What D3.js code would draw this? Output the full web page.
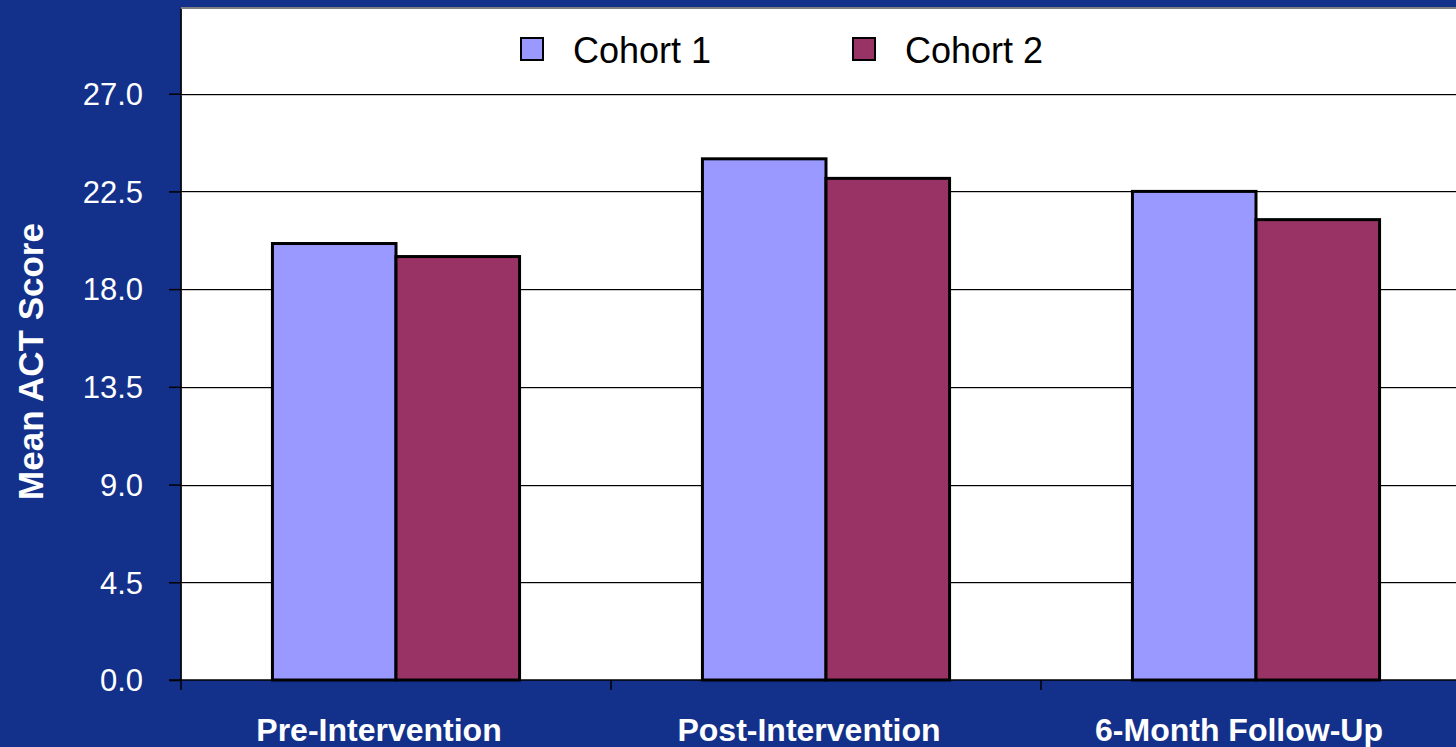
<!DOCTYPE html>
<html>
<head>
<meta charset="utf-8">
<script src="https://cdn.jsdelivr.net/npm/d3@7"></script>
<style>
  body { margin: 0; background: #13318b; }
  svg { display: block; font-family: 'Liberation Sans', Arial, sans-serif; }
</style>
</head>
<body>
<div id="chart"></div>
<script>
let categories = ['Pre-Intervention', 'Post-Intervention', '6-Month Follow-Up']
let seriesNames = ['Cohort 1', 'Cohort 2']
let cohort1 = [20.1, 24.0, 22.5]
let cohort2 = [19.5, 23.1, 21.2]
let yTicks = [0, 4.5, 9, 13.5, 18, 22.5, 27]

let width = 1456
let height = 747
let margin = { top: 9, left: 181, right: -15, bottom: 67 }
let plotW = width - margin.left - margin.right
let plotH = height - margin.top - margin.bottom

let colors = ['#9999ff', '#993366']

let svg = d3
  .select('#chart')
  .append('svg')
  .attr('width', width)
  .attr('height', height)

svg.append('rect')
  .attr('width', width)
  .attr('height', height)
  .attr('fill', '#13318b')

let g = svg.append('g')
  .attr('transform', 'translate(' + margin.left + ',' + margin.top + ')')

let x0 = d3.scaleBand().domain(categories).range([0, plotW]).paddingInner(0).paddingOuter(0)
let x1 = d3.scaleBand().domain(seriesNames).range([0, x0.bandwidth()]).paddingInner(0).paddingOuter(0.74)
let y = d3.scaleLinear().domain([0, 30.9]).range([plotH, 0])

// plot area with gray top edge
g.append('rect')
  .attr('x', 0).attr('y', -2)
  .attr('width', plotW).attr('height', plotH + 2)
  .attr('fill', '#808080')
g.append('rect')
  .attr('x', 1).attr('y', 0)
  .attr('width', plotW).attr('height', plotH)
  .attr('fill', 'white')

// gridlines
g.selectAll('.grid-shadow')
  .data(yTicks.filter(d => d > 0))
  .enter()
  .append('line')
  .attr('x1', 0).attr('x2', plotW)
  .attr('y1', d => Math.round(y(d)) + 1.5).attr('y2', d => Math.round(y(d)) + 1.5)
  .attr('stroke', '#c8c8c8')
  .attr('stroke-width', 1)
g.selectAll('.grid')
  .data(yTicks.filter(d => d > 0))
  .enter()
  .append('line')
  .attr('x1', 0).attr('x2', plotW)
  .attr('y1', d => Math.round(y(d)) + 0.5).attr('y2', d => Math.round(y(d)) + 0.5)
  .attr('stroke', 'black')
  .attr('stroke-width', 1)

// bars
let rows = categories.map((c, i) => ({ cat: c, values: [cohort1[i], cohort2[i]] }))

let groups = g.selectAll('.group')
  .data(rows)
  .enter()
  .append('g')
  .attr('transform', d => 'translate(' + x0(d.cat) + ',0)')

groups.selectAll('rect')
  .data(d => d.values.map((v, i) => ({ name: seriesNames[i], value: v, i: i })))
  .enter()
  .append('rect')
  .attr('x', d => x1(d.name))
  .attr('y', d => y(d.value))
  .attr('width', x1.bandwidth())
  .attr('height', d => plotH - y(d.value))
  .attr('fill', d => colors[d.i])
  .attr('stroke', 'black')
  .attr('stroke-width', 3)

// y axis
let yAxis = g.append('g')
  .call(d3.axisLeft(y).tickValues(yTicks).tickSize(12).tickPadding(26).tickFormat(d3.format('.1f')))
yAxis.select('.domain').attr('stroke', 'black').attr('stroke-width', 1.5).attr('d', 'M0,0V' + plotH)
yAxis.selectAll('.tick line').attr('stroke', 'black').attr('stroke-width', 1.5)
yAxis.selectAll('.tick text')
  .attr('fill', 'white')
  .attr('font-size', 31)
  .attr('font-family', "'Liberation Sans', Arial, sans-serif")
  .attr('dy', '0.35em')

// x axis
let xAxis = g.append('g')
  .attr('transform', 'translate(0,' + plotH + ')')
xAxis.append('line')
  .attr('x1', -12).attr('x2', plotW)
  .attr('y1', 0).attr('y2', 0)
  .attr('stroke', 'black').attr('stroke-width', 1.5)
xAxis.selectAll('.xtick')
  .data(categories)
  .enter()
  .append('line')
  .attr('x1', d => x0(d)).attr('x2', d => x0(d))
  .attr('y1', 0).attr('y2', 10)
  .attr('stroke', 'black').attr('stroke-width', 1.5)
xAxis.selectAll('.xlabel')
  .data(categories)
  .enter()
  .append('text')
  .attr('x', d => x0(d) + x0.bandwidth() / 2 - 17)
  .attr('y', 61)
  .attr('text-anchor', 'middle')
  .attr('fill', 'white')
  .attr('font-size', 32)
  .attr('font-weight', 'bold')
  .text(d => d)

// y axis title
svg.append('text')
  .attr('transform', 'translate(43,' + (margin.top + plotH / 2 + 17) + ') rotate(-90)')
  .attr('text-anchor', 'middle')
  .attr('fill', 'white')
  .attr('font-size', 35)
  .attr('font-weight', 'bold')
  .text('Mean ACT Score')

// legend
let legendX = [521, 853]
let legend = svg.selectAll('.legend')
  .data(seriesNames)
  .enter()
  .append('g')
  .attr('transform', (d, i) => 'translate(' + legendX[i] + ',38)')
legend.append('rect')
  .attr('width', 22).attr('height', 22)
  .attr('fill', (d, i) => colors[i])
  .attr('stroke', 'black').attr('stroke-width', 2)
legend.append('text')
  .attr('x', 52).attr('y', 12)
  .attr('dy', '0.35em')
  .attr('font-size', 36)
  .attr('fill', 'black')
  .text(d => d)
</script>
</body>
</html>
